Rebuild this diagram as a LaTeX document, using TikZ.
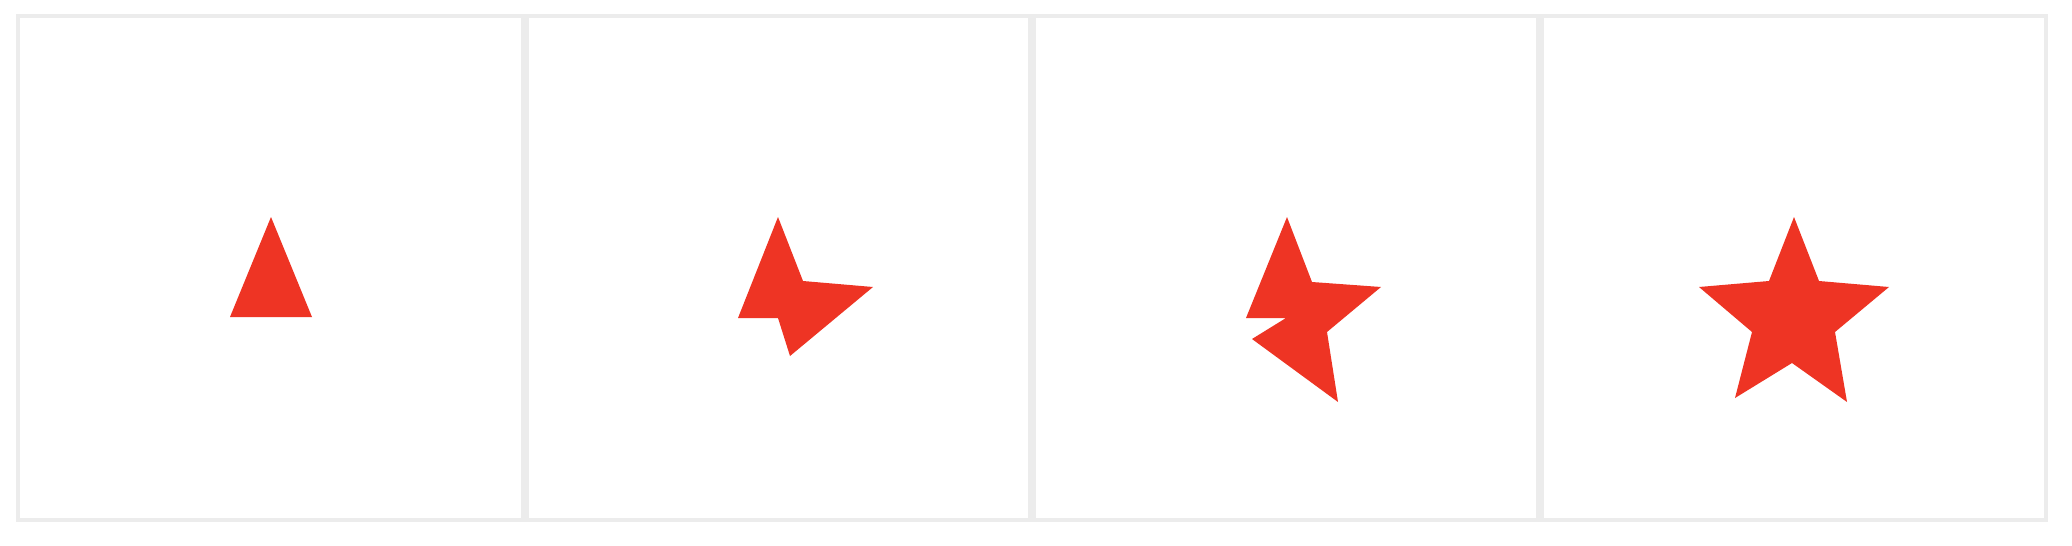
\documentclass[tikz,border=0pt]{standalone}
\definecolor{starred}{RGB}{238,52,36}
\definecolor{framegray}{RGB}{236,236,236}
\begin{document}
\begin{tikzpicture}[x=1pt,y=-1pt,
  starshape/.style={fill=starred,draw=none},
  framestyle/.style={draw=framegray,line width=4pt},
  dividerstyle/.style={draw=framegray,line width=8pt}]
\useasboundingbox (0,0) rectangle (2072,546);
\fill[white] (0,0) rectangle (2072,546);
\draw[framestyle] (18,16) rectangle (2046,520);
\foreach \x in {525,1032,1540} \draw[dividerstyle] (\x,14) -- (\x,522);
% panel 1
\fill[starshape] (271,217) -- (312,317) -- (230,317) -- cycle;
% panel 2
\fill[starshape] (778,217) -- (803,281) -- (873,287) -- (790,356) -- (778,318) -- (738,318) -- cycle;
% panel 3
\fill[starshape] (1287,217) -- (1312,282) -- (1381,287) -- (1327,332) -- (1338,402) -- (1252,339) -- (1286,318) -- (1246,318) -- cycle;
% panel 4
\fill[starshape] (1794,217) -- (1819,281) -- (1889,287) -- (1835,332) -- (1847,402) -- (1792,363) -- (1735,398) -- (1752,332) -- (1699,287) -- (1769,281) -- cycle;
\end{tikzpicture}
\end{document}
